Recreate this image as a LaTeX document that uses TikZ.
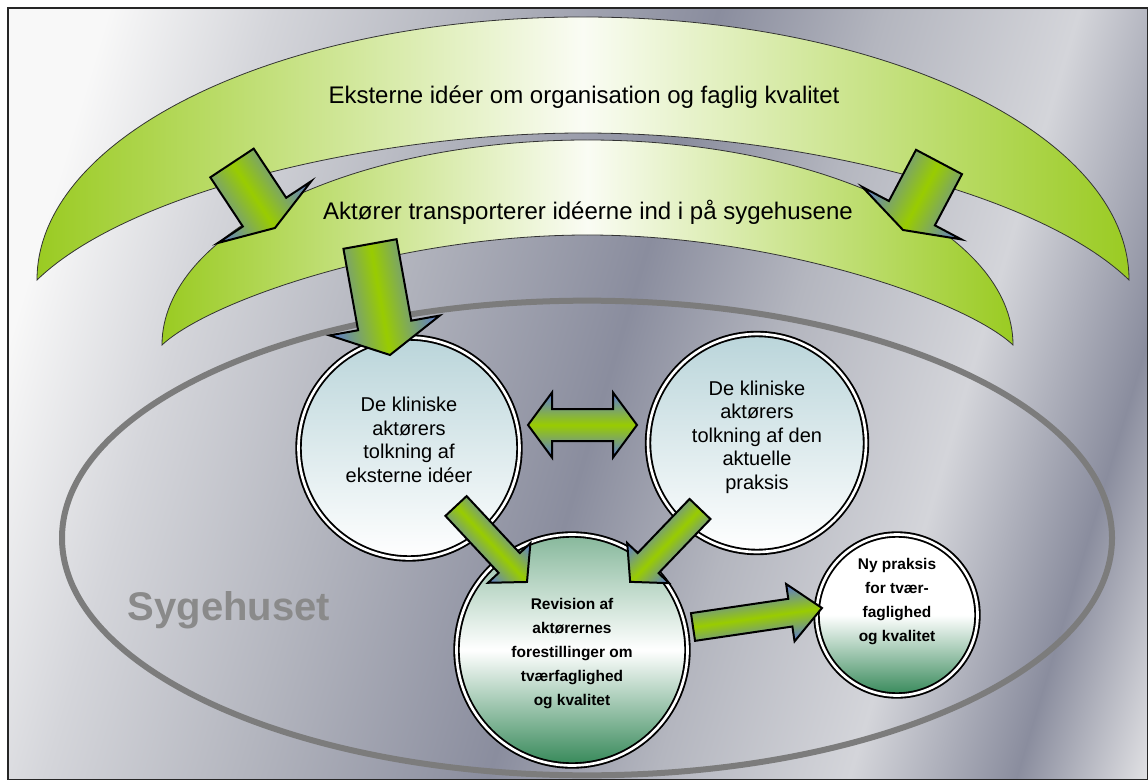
\documentclass[tikz,border=0pt]{standalone}
\usepackage{fontspec}
\setmainfont{Liberation Sans}
\usepackage{tikz}
\usetikzlibrary{shapes.geometric}

\definecolor{metalhvid}{HTML}{F8F8F8}
\definecolor{metallys}{HTML}{D4D5DA}
\definecolor{metalgraa}{HTML}{B4B6BF}
\definecolor{metalmoerk}{HTML}{8A8D9E}
\definecolor{metalslut}{HTML}{E6E6E8}
\definecolor{baandgroen}{HTML}{9ACB22}
\definecolor{baandlys}{HTML}{FAFCF4}
\definecolor{pilgroen}{HTML}{99CC00}
\definecolor{pilblaa}{HTML}{5A78DC}
\definecolor{cirkelblaa}{HTML}{BAD5DA}
\definecolor{cirkelgroen}{HTML}{358858}
\definecolor{sygegraa}{HTML}{7C7C7C}
\definecolor{sygetekst}{HTML}{8A8A8A}

\pgfdeclarehorizontalshading{metal}{100bp}{color(0bp)=(metalhvid); color(25bp)=(metalhvid);
  color(29bp)=(metalhvid); color(35bp)=(metallys); color(42bp)=(metalgraa); color(51bp)=(metalmoerk);
  color(57bp)=(metalgraa); color(64bp)=(metallys); color(70bp)=(metalmoerk);
  color(75bp)=(metalslut); color(100bp)=(metalslut)}

\tikzset{
  baand/.style={draw=black!80, line width=0.6pt, left color=baandgroen, right color=baandgroen, middle color=baandlys},
  bandtekst/.style={font=\fontsize{18}{21}\selectfont, inner sep=0pt},
  cirkel/.style={circle, draw=black, line width=1.4pt, double=white, double distance=2pt, inner sep=0pt},
  tolkning/.style={cirkel, top color=cirkelblaa, bottom color=white},
  revision/.style={cirkel, top color=cirkelgroen!60, bottom color=cirkelgroen, middle color=white},
  tolktekst/.style={align=center, inner sep=0pt, font=\fontsize{15}{17.6}\selectfont},
  revtekst/.style={align=center, inner sep=0pt, font=\bfseries\fontsize{11.6}{18}\selectfont},
  blokpil/.style={draw=black, line width=1.5pt, line join=miter,
    top color=pilblaa, bottom color=pilblaa, middle color=pilgroen}
}

% block arrow: start, tip, half shaft, half head, head length (px)
\newcommand{\blokpil}[5]{%
  \path (#1); \pgfgetlastxy{\pilax}{\pilay}%
  \path (#2); \pgfgetlastxy{\pilbx}{\pilby}%
  \pgfmathsetmacro{\pilvinkel}{atan2(\pilby-\pilay,\pilbx-\pilax)}%
  \pgfmathsetmacro{\pillaengde}{veclen(\pilbx-\pilax,\pilby-\pilay)}%
  \pgfmathsetmacro{\pilhals}{\pillaengde-#5*0.75}%
  \pgfmathsetmacro{\pilskaft}{#3*0.75}%
  \pgfmathsetmacro{\pilhoved}{#4*0.75}%
  \begin{scope}[transform canvas={shift={(#1)},rotate=\pilvinkel}]
    \draw[blokpil] (0pt,-\pilskaft pt) -- (\pilhals pt,-\pilskaft pt) -- (\pilhals pt,-\pilhoved pt)
      -- (\pillaengde pt,0pt) -- (\pilhals pt,\pilhoved pt) -- (\pilhals pt,\pilskaft pt)
      -- (0pt,\pilskaft pt) -- cycle;
  \end{scope}}

% double block arrow: left tip, right tip, half shaft, half head, head length (px)
\newcommand{\dobbeltpil}[5]{%
  \path (#1); \pgfgetlastxy{\pilax}{\pilay}%
  \path (#2); \pgfgetlastxy{\pilbx}{\pilby}%
  \pgfmathsetmacro{\pilvinkel}{atan2(\pilby-\pilay,\pilbx-\pilax)}%
  \pgfmathsetmacro{\pillaengde}{veclen(\pilbx-\pilax,\pilby-\pilay)}%
  \pgfmathsetmacro{\pilhals}{#5*0.75}%
  \pgfmathsetmacro{\pilhalsb}{\pillaengde-#5*0.75}%
  \pgfmathsetmacro{\pilskaft}{#3*0.75}%
  \pgfmathsetmacro{\pilhoved}{#4*0.75}%
  \begin{scope}[transform canvas={shift={(#1)},rotate=\pilvinkel}]
    \draw[blokpil] (0pt,0pt) -- (\pilhals pt,\pilhoved pt) -- (\pilhals pt,\pilskaft pt)
      -- (\pilhalsb pt,\pilskaft pt) -- (\pilhalsb pt,\pilhoved pt) -- (\pillaengde pt,0pt)
      -- (\pilhalsb pt,-\pilhoved pt) -- (\pilhalsb pt,-\pilskaft pt) -- (\pilhals pt,-\pilskaft pt)
      -- (\pilhals pt,-\pilhoved pt) -- cycle;
  \end{scope}}

\begin{document}
\begin{tikzpicture}[x=0.75pt,y=-0.75pt]
  \useasboundingbox (0,0) rectangle (1148,780);
  \fill[white] (0,0) rectangle (1148,780);
  % metal background, shaded along a slightly falling axis
  \begin{scope}
    \clip (8,8) rectangle (1148,780);
    \begin{scope}[transform canvas={rotate=-16.7}]
      \shade[shading=metal] (0,-340) rectangle (1330,760);
    \end{scope}
  \end{scope}
  \draw[black!85, line width=1.1pt] (8,8) rectangle (1148,780);

  % sygehuset
  \node[ellipse, draw=sygegraa, line width=4.5pt, minimum width=787.5pt, minimum height=356pt, inner sep=0pt] (sygehus) at (587,538) {};
  \node[font=\bfseries\fontsize{30}{36}\selectfont, text=sygetekst] (sygtekst) at (229,610) {Sygehuset};

  % the two bands
  \path[baand] (37,280) arc[start angle=180, end angle=360, x radius=546, y radius=263]
    .. controls (1036,190) and (786,133) .. (583,133) .. controls (380,133) and (130,190) .. (37,280) -- cycle;
  \path[baand] (162,345) arc[start angle=180, end angle=360, x radius=425.5, y radius=205]
    .. controls (965,300) and (775,235) .. (587.5,235) .. controls (400,235) and (210,300) .. (162,345) -- cycle;
  \node[bandtekst] (eksterne) at (584,97) {Eksterne idéer om organisation og faglig kvalitet};
  \node[bandtekst] (aktoerer) at (588,212) {Aktører transporterer idéerne ind i på sygehusene};

  % circles
  \node[tolkning, minimum size=165.75pt] (tolkIdeer) at (409,448) {};
  \node[tolkning, minimum size=163.5pt] (tolkPraksis) at (757,443) {};
  \node[revision, minimum size=173.25pt] (revision) at (572,650) {};
  \node[revision, minimum size=120.75pt, top color=white, bottom color=cirkelgroen, middle color=white] (nyPraksis) at (897,615) {};
  \node[tolktekst] (tolkIdeerTekst) at ([yshift=6pt]tolkIdeer.center) {De kliniske\\aktørers\\tolkning af\\eksterne idéer};
  \node[tolktekst] (tolkPraksisTekst) at ([yshift=4.5pt]tolkPraksis.center) {De kliniske\\aktørers\\tolkning af den\\aktuelle\\praksis};
  \node[revtekst] (revisionTekst) at ([yshift=-3pt]revision.center) {Revision af\\aktørernes\\forestillinger om\\tværfaglighed\\og kvalitet};
  \node[revtekst] (nyPraksisTekst) at ([yshift=10pt]nyPraksis.center) {Ny praksis\\for tvær-\\faglighed\\og kvalitet};

  % arrows
  \coordinate (indV) at (232,163);  \coordinate (indVspids) at (275,228);
  \coordinate (indH) at (939,162);  \coordinate (indHspids) at (903,230);
  \coordinate (tilTolk) at (370,244); \coordinate (tilTolkSpids) at (390,355);
  \coordinate (fraIdeer) at (456,506); \coordinate (fraIdeerSpids) at (527,582);
  \coordinate (fraPraksis) at (700,509); \coordinate (fraPraksisSpids) at (630,582);
  \coordinate (tilNy) at (693,627); \coordinate (tilNySpids) at (822,608);
  \coordinate (dobV) at (528,425); \coordinate (dobH) at (637,425);

  \blokpil{indV}{indVspids}{26}{56}{19}
  \blokpil{indH}{indHspids}{26}{56}{19}
  \blokpil{tilTolk}{tilTolkSpids}{27}{56}{30}
  \blokpil{fraIdeer}{fraIdeerSpids}{14.5}{29}{26}
  \blokpil{fraPraksis}{fraPraksisSpids}{14.5}{29}{26}
  \blokpil{tilNy}{tilNySpids}{14}{29}{32}
  \dobbeltpil{dobV}{dobH}{16}{32.5}{24}
\end{tikzpicture}
\end{document}
